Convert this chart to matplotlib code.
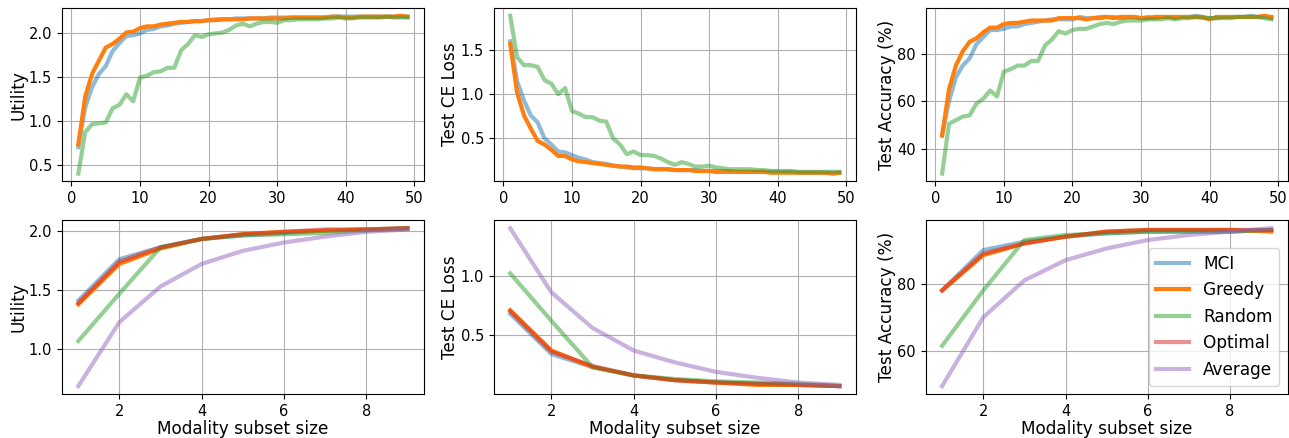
import numpy as np
import matplotlib
matplotlib.use('Agg')
import matplotlib.pyplot as plt

# top row: x = number of steps 1..49
steps = np.arange(1, 50)

util_mci = [0.70, 1.15, 1.38, 1.53, 1.62, 1.79, 1.88, 1.96, 1.97, 1.99,
            2.03, 2.04, 2.07, 2.08, 2.10, 2.11, 2.12, 2.13, 2.13, 2.14,
            2.15, 2.15, 2.15, 2.16, 2.16, 2.16, 2.16, 2.16, 2.17, 2.17,
            2.17, 2.17, 2.17, 2.17, 2.17, 2.17, 2.17, 2.18, 2.18, 2.18,
            2.18, 2.18, 2.18, 2.18, 2.18, 2.18, 2.18, 2.18, 2.18]
util_greedy = [0.73, 1.27, 1.53, 1.68, 1.83, 1.87, 1.93, 2.00, 2.01, 2.05,
               2.07, 2.07, 2.09, 2.10, 2.11, 2.12, 2.12, 2.13, 2.13, 2.14,
               2.14, 2.15, 2.15, 2.15, 2.15, 2.16, 2.16, 2.16, 2.16, 2.16,
               2.16, 2.17, 2.17, 2.17, 2.17, 2.17, 2.17, 2.18, 2.18, 2.17,
               2.17, 2.18, 2.18, 2.18, 2.18, 2.18, 2.18, 2.19, 2.18]
util_random = [0.40, 0.87, 0.96, 0.97, 0.98, 1.14, 1.18, 1.30, 1.22, 1.49,
               1.51, 1.55, 1.56, 1.60, 1.60, 1.80, 1.87, 1.97, 1.95, 1.98,
               1.99, 2.00, 2.03, 2.08, 2.10, 2.07, 2.10, 2.12, 2.12, 2.11,
               2.14, 2.14, 2.15, 2.15, 2.15, 2.15, 2.16, 2.16, 2.17, 2.16,
               2.16, 2.17, 2.17, 2.17, 2.17, 2.18, 2.17, 2.17, 2.17]

loss_mci = [1.60, 1.15, 0.93, 0.76, 0.68, 0.50, 0.43, 0.35, 0.34, 0.31,
            0.28, 0.26, 0.23, 0.22, 0.21, 0.19, 0.18, 0.17, 0.16, 0.16,
            0.16, 0.15, 0.15, 0.15, 0.14, 0.14, 0.14, 0.14, 0.13, 0.13,
            0.13, 0.13, 0.13, 0.12, 0.12, 0.12, 0.12, 0.12, 0.12, 0.12,
            0.12, 0.12, 0.11, 0.11, 0.11, 0.11, 0.11, 0.11, 0.11]
loss_greedy = [1.57, 1.02, 0.76, 0.61, 0.47, 0.43, 0.37, 0.30, 0.30, 0.26,
               0.24, 0.23, 0.22, 0.21, 0.20, 0.19, 0.18, 0.18, 0.17, 0.17,
               0.16, 0.15, 0.15, 0.15, 0.14, 0.14, 0.14, 0.13, 0.13, 0.13,
               0.12, 0.12, 0.12, 0.12, 0.12, 0.12, 0.12, 0.12, 0.11, 0.11,
               0.11, 0.11, 0.11, 0.11, 0.11, 0.11, 0.11, 0.10, 0.11]
loss_random = [1.89, 1.42, 1.33, 1.33, 1.31, 1.16, 1.12, 1.00, 1.07, 0.81,
               0.78, 0.74, 0.74, 0.70, 0.69, 0.50, 0.43, 0.32, 0.35, 0.31,
               0.31, 0.30, 0.27, 0.23, 0.20, 0.23, 0.21, 0.18, 0.18, 0.19,
               0.17, 0.16, 0.15, 0.15, 0.15, 0.15, 0.14, 0.14, 0.13, 0.13,
               0.13, 0.13, 0.12, 0.12, 0.12, 0.12, 0.12, 0.12, 0.12]

acc_mci = [46.0, 60.0, 70.0, 75.0, 78.0, 84.0, 87.0, 90.0, 90.0, 90.5,
           91.5, 91.5, 92.5, 93.0, 93.5, 94.0, 94.5, 94.5, 94.5, 94.5,
           95.5, 95.0, 95.0, 95.5, 95.5, 95.5, 95.0, 95.5, 95.5, 95.0,
           95.5, 95.0, 95.5, 95.5, 95.0, 95.5, 95.5, 96.0, 95.5, 95.0,
           95.0, 95.5, 95.5, 95.5, 95.5, 96.0, 95.5, 95.5, 95.0]
acc_greedy = [45.5, 65.0, 75.0, 81.0, 85.0, 86.5, 89.0, 91.0, 91.0, 92.5,
              93.0, 93.0, 93.5, 94.0, 94.0, 94.0, 94.0, 95.0, 95.0, 95.0,
              95.0, 94.5, 95.0, 95.0, 95.5, 95.0, 95.5, 95.5, 95.5, 95.0,
              95.0, 95.5, 95.5, 95.5, 95.5, 95.5, 95.5, 95.5, 95.5, 94.5,
              95.5, 95.5, 95.5, 95.5, 95.5, 95.5, 95.5, 96.0, 95.5]
acc_random = [29.5, 50.5, 52.0, 53.5, 54.0, 59.0, 61.0, 64.5, 62.0, 72.5,
              73.5, 75.0, 75.0, 77.0, 77.0, 83.5, 86.0, 89.5, 88.5, 90.0,
              90.5, 90.5, 91.5, 92.5, 93.0, 92.5, 93.5, 94.0, 94.0, 94.0,
              94.5, 94.5, 94.5, 95.0, 94.5, 95.0, 95.0, 95.5, 95.0, 95.0,
              95.0, 95.0, 95.0, 95.5, 95.5, 95.5, 95.5, 95.0, 94.5]

# bottom row: modality subset size 1..9
sizes = np.arange(1, 10)

m_util_mci = [1.41, 1.76, 1.86, 1.93, 1.96, 1.98, 2.00, 2.01, 2.02]
m_util_greedy = [1.38, 1.72, 1.85, 1.93, 1.97, 1.99, 2.00, 2.01, 2.02]
m_util_random = [1.07, 1.47, 1.86, 1.93, 1.96, 1.97, 1.98, 2.00, 2.02]
m_util_optimal = [1.39, 1.74, 1.86, 1.93, 1.97, 1.99, 2.01, 2.01, 2.02]
m_util_average = [0.69, 1.23, 1.53, 1.72, 1.83, 1.90, 1.95, 1.99, 2.01]

m_loss_mci = [0.68, 0.34, 0.23, 0.16, 0.12, 0.10, 0.09, 0.08, 0.07]
m_loss_greedy = [0.71, 0.37, 0.23, 0.16, 0.12, 0.10, 0.08, 0.08, 0.07]
m_loss_random = [1.02, 0.62, 0.23, 0.16, 0.13, 0.11, 0.10, 0.09, 0.07]
m_loss_optimal = [0.70, 0.36, 0.24, 0.16, 0.12, 0.10, 0.09, 0.08, 0.07]
m_loss_average = [1.40, 0.86, 0.56, 0.37, 0.27, 0.19, 0.14, 0.10, 0.08]

m_acc_mci = [78.0, 90.0, 92.5, 94.0, 95.0, 95.5, 95.5, 95.5, 96.0]
m_acc_greedy = [78.0, 88.5, 92.0, 94.0, 95.5, 96.0, 96.0, 96.0, 95.5]
m_acc_random = [61.5, 78.0, 93.0, 94.5, 95.0, 95.5, 95.5, 95.5, 96.0]
m_acc_optimal = [78.0, 89.0, 92.0, 94.0, 95.5, 96.0, 96.0, 96.0, 96.0]
m_acc_average = [49.5, 70.0, 81.0, 87.0, 90.5, 93.0, 94.5, 95.5, 96.5]

names = ['MCI', 'Greedy', 'Random', 'Optimal', 'Average']
styles = {
    'MCI': dict(color='tab:blue', alpha=0.5),
    'Greedy': dict(color='tab:orange', alpha=1.0),
    'Random': dict(color='tab:green', alpha=0.5),
    'Optimal': dict(color='tab:red', alpha=0.5),
    'Average': dict(color='tab:purple', alpha=0.5),
}

fig, axes = plt.subplots(2, 3, figsize=(12.89, 4.38), dpi=100)
fig.subplots_adjust(left=0.048, right=0.999, bottom=0.1005, top=0.982,
                    wspace=0.193, hspace=0.224)

top = [(util_mci, util_greedy, util_random, 'Utility'),
       (loss_mci, loss_greedy, loss_random, 'Test CE Loss'),
       (acc_mci, acc_greedy, acc_random, 'Test Accuracy (%)')]
for ax, (a, b, c, lab) in zip(axes[0], top):
    for name, ys in zip(names[:3], (a, b, c)):
        ax.plot(steps, ys, lw=3, label=name, **styles[name])
    ax.set_ylabel(lab, fontsize=12.2, labelpad=1)
    ax.set_xticks([0, 10, 20, 30, 40, 50])
    ax.grid(True)

bottom = [((m_util_mci, m_util_greedy, m_util_random, m_util_optimal, m_util_average), 'Utility'),
          ((m_loss_mci, m_loss_greedy, m_loss_random, m_loss_optimal, m_loss_average), 'Test CE Loss'),
          ((m_acc_mci, m_acc_greedy, m_acc_random, m_acc_optimal, m_acc_average), 'Test Accuracy (%)')]
for ax, (series, lab) in zip(axes[1], bottom):
    for name, ys in zip(names, series):
        ax.plot(sizes, ys, lw=3, label=name, **styles[name])
    ax.set_ylabel(lab, fontsize=12.2, labelpad=1)
    ax.set_xlabel('Modality subset size', fontsize=12.2, labelpad=1)
    ax.set_xticks([2, 4, 6, 8])
    ax.grid(True)

for ax in axes.flat:
    ax.tick_params(labelsize=10.5)

axes[1, 2].legend(loc='lower right', fontsize=12.2)

plt.savefig('out.png')
